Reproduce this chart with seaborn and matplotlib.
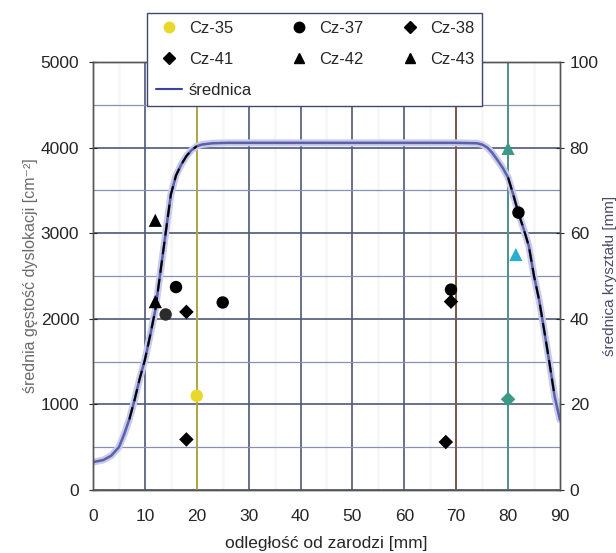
import numpy as np
import pandas as pd
import matplotlib
matplotlib.use("Agg")
import matplotlib.pyplot as plt
from matplotlib.lines import Line2D
from matplotlib.ticker import MultipleLocator
import seaborn as sns

# punkty pomiarowe: odległość od zarodzi [mm], gęstość dyslokacji [cm^-2]
cz35_x = [20]
cz35_y = [1100]
cz35_c = ["#e8d82a"]

cz37_x = [14, 16, 25, 69, 82]
cz37_y = [2050, 2370, 2190, 2340, 3240]
cz37_c = ["#2b2b2b", "black", "black", "black", "black"]

cz38_x = [18, 69]
cz38_y = [2080, 2200]
cz38_c = ["black", "black"]

cz41_x = [18, 68, 80]
cz41_y = [590, 560, 1060]
cz41_c = ["black", "black", "#3a9a86"]

cz42_x = [12, 80]
cz42_y = [2200, 3990]
cz42_c = ["black", "#3a9a86"]

cz43_x = [12, 81.5]
cz43_y = [3150, 2750]
cz43_c = ["black", "#2aaed0"]

# średnica kryształu [mm]
sr_x = [0, 2, 3.5, 5, 6, 7, 8, 9, 10, 11, 12, 13, 14, 15, 16, 17, 18, 19, 20, 21,
        23, 26, 30, 40, 50, 60, 70, 74, 75, 76, 77, 78, 79, 80, 81, 82, 83, 84,
        85, 86, 87, 88, 89, 90]
sr_y = [6.5, 7, 8, 10, 13, 16.5, 21, 26, 30.4, 36, 42, 51, 60, 69, 73.5, 76, 78,
        79.4, 80.3, 80.7, 81, 81.1, 81.1, 81.1, 81.1, 81.1, 81.1, 81, 80.7, 80,
        78.7, 77, 75.2, 73, 69, 64.7, 61, 57, 50, 44.3, 37, 29.5, 21.7, 16.4]

x_ticks = list(range(0, 91, 10))
y_ticks = list(range(0, 5001, 1000))
y2_ticks = list(range(0, 101, 20))

series = [
    ("Cz-35", cz35_x, cz35_y, cz35_c, "o", 80),
    ("Cz-37", cz37_x, cz37_y, cz37_c, "o", 80),
    ("Cz-38", cz38_x, cz38_y, cz38_c, "D", 55),
    ("Cz-41", cz41_x, cz41_y, cz41_c, "D", 55),
    ("Cz-42", cz42_x, cz42_y, cz42_c, "^", 90),
    ("Cz-43", cz43_x, cz43_y, cz43_c, "^", 90),
]

sns.set_style("white")
plt.rcParams["font.family"] = ["Liberation Sans", "DejaVu Sans"]

fig = plt.figure(figsize=(6.16, 5.53), dpi=100)
ax = fig.add_axes([0.151, 0.114, 0.758, 0.774])

# oś średnicy (tło i siatka)
ax2 = ax.twinx()
ax.set_xlim(0, 90)
ax.set_ylim(0, 5000)
ax.set_xticks(x_ticks)
ax.set_yticks(y_ticks)
ax2.set_ylim(0, 100)
ax2.set_yticks(y2_ticks)
ax2.yaxis.set_minor_locator(MultipleLocator(10))

ax2.set_zorder(0)
ax.set_zorder(1)
ax.patch.set_visible(False)
ax2.patch.set_facecolor("#e4e4e4")
ax2.set_axisbelow(True)
ax2.grid(which="minor", axis="y", color="#8890b4", lw=0.9)
ax2.grid(which="major", axis="y", color="#4f5878", lw=1.2)
ax2.tick_params(axis="y", which="minor", length=0)

# siatka pionowa
for xv in range(5, 90, 10):
    ax2.axvline(xv, color="#f6f6f6", lw=1.8, zorder=0.4)
for xv in x_ticks[1:-1]:
    ax2.axvline(xv, color="#4f5878", lw=1.2, zorder=0.5)
# kolorowe linie pionowe
for xv, col in [(20, "#b3a843"), (70, "#7e5a48"), (80, "#4f9590")]:
    ax2.axvline(xv, color=col, lw=1.4, zorder=1)

sr = pd.DataFrame({"x": sr_x, "d": sr_y})
sns.lineplot(data=sr, x="x", y="d", ax=ax2, color="#c9cbea", lw=5, zorder=2)
sns.lineplot(data=sr, x="x", y="d", ax=ax2, color="#5a60aa", lw=1.8, zorder=3)
slopes = sr[((sr.x >= 7) & (sr.x <= 20)) | ((sr.x >= 80) & (sr.x <= 89))]
for part in [slopes[slopes.x < 50], slopes[slopes.x > 50]]:
    sns.lineplot(data=part, x="x", y="d", ax=ax2, color="black", lw=1.5, zorder=4)
    ax2.lines[-1].set_dashes((6, 3))
ax2.set_xlim(0, 90)
ax2.set_ylabel("średnica kryształu [mm]", color="#4a4a6a", fontsize=11, labelpad=3)
ax2.tick_params(axis="y", which="major", direction="inout", length=6,
                labelsize=12.5, pad=4)

for name, xs, ys, cs, mk, sz in series:
    df = pd.DataFrame({"x": xs, "y": ys, "c": cs})
    sns.scatterplot(data=df, x="x", y="y", hue="c",
                    palette={c: c for c in set(cs)}, marker=mk, s=sz,
                    edgecolor="none", legend=False, ax=ax, zorder=5)

ax.set_xlim(0, 90)
ax.set_ylim(0, 5000)
ax.set_xlabel("odległość od zarodzi [mm]", fontsize=12.5, labelpad=8)
ax.set_ylabel("średnia gęstość dyslokacji [cm⁻²]", color="#6a6a6a",
              fontsize=11.5, labelpad=2)
ax.tick_params(axis="x", which="major", direction="inout", length=6,
               labelsize=12.5, pad=11)
ax.tick_params(axis="y", which="major", direction="inout", length=6,
               labelsize=12.5, pad=7)

for a in (ax, ax2):
    for sp in a.spines.values():
        sp.set_color("#555555")
        sp.set_linewidth(1.0)

handles = {name: Line2D([], [], ls="none", marker=mk, color="black",
                        markersize=7.5 if mk != "D" else 6)
           for name, xs, ys, cs, mk, sz in series}
handles["Cz-35"] = Line2D([], [], ls="none", marker="o", color="#e8d82a",
                          markersize=7.5)
handles["średnica"] = Line2D([], [], color="#3a44a0", lw=1.5)
order = ["Cz-35", "Cz-41", "średnica", "Cz-37", "Cz-42", "Cz-38", "Cz-43"]
leg = fig.legend([handles[k] for k in order], order, ncol=3,
                 loc="upper left", bbox_to_anchor=(0.239, 0.9765),
                 borderaxespad=0,
                 frameon=True, fancybox=False, framealpha=1, fontsize=12,
                 columnspacing=2.0, handletextpad=0.4, handlelength=1.6,
                 labelspacing=0.95, borderpad=0.5)
leg.get_frame().set_edgecolor("#404870")
leg.get_frame().set_linewidth(1.0)
leg.set_zorder(10)

plt.savefig("out.png", dpi=100)
